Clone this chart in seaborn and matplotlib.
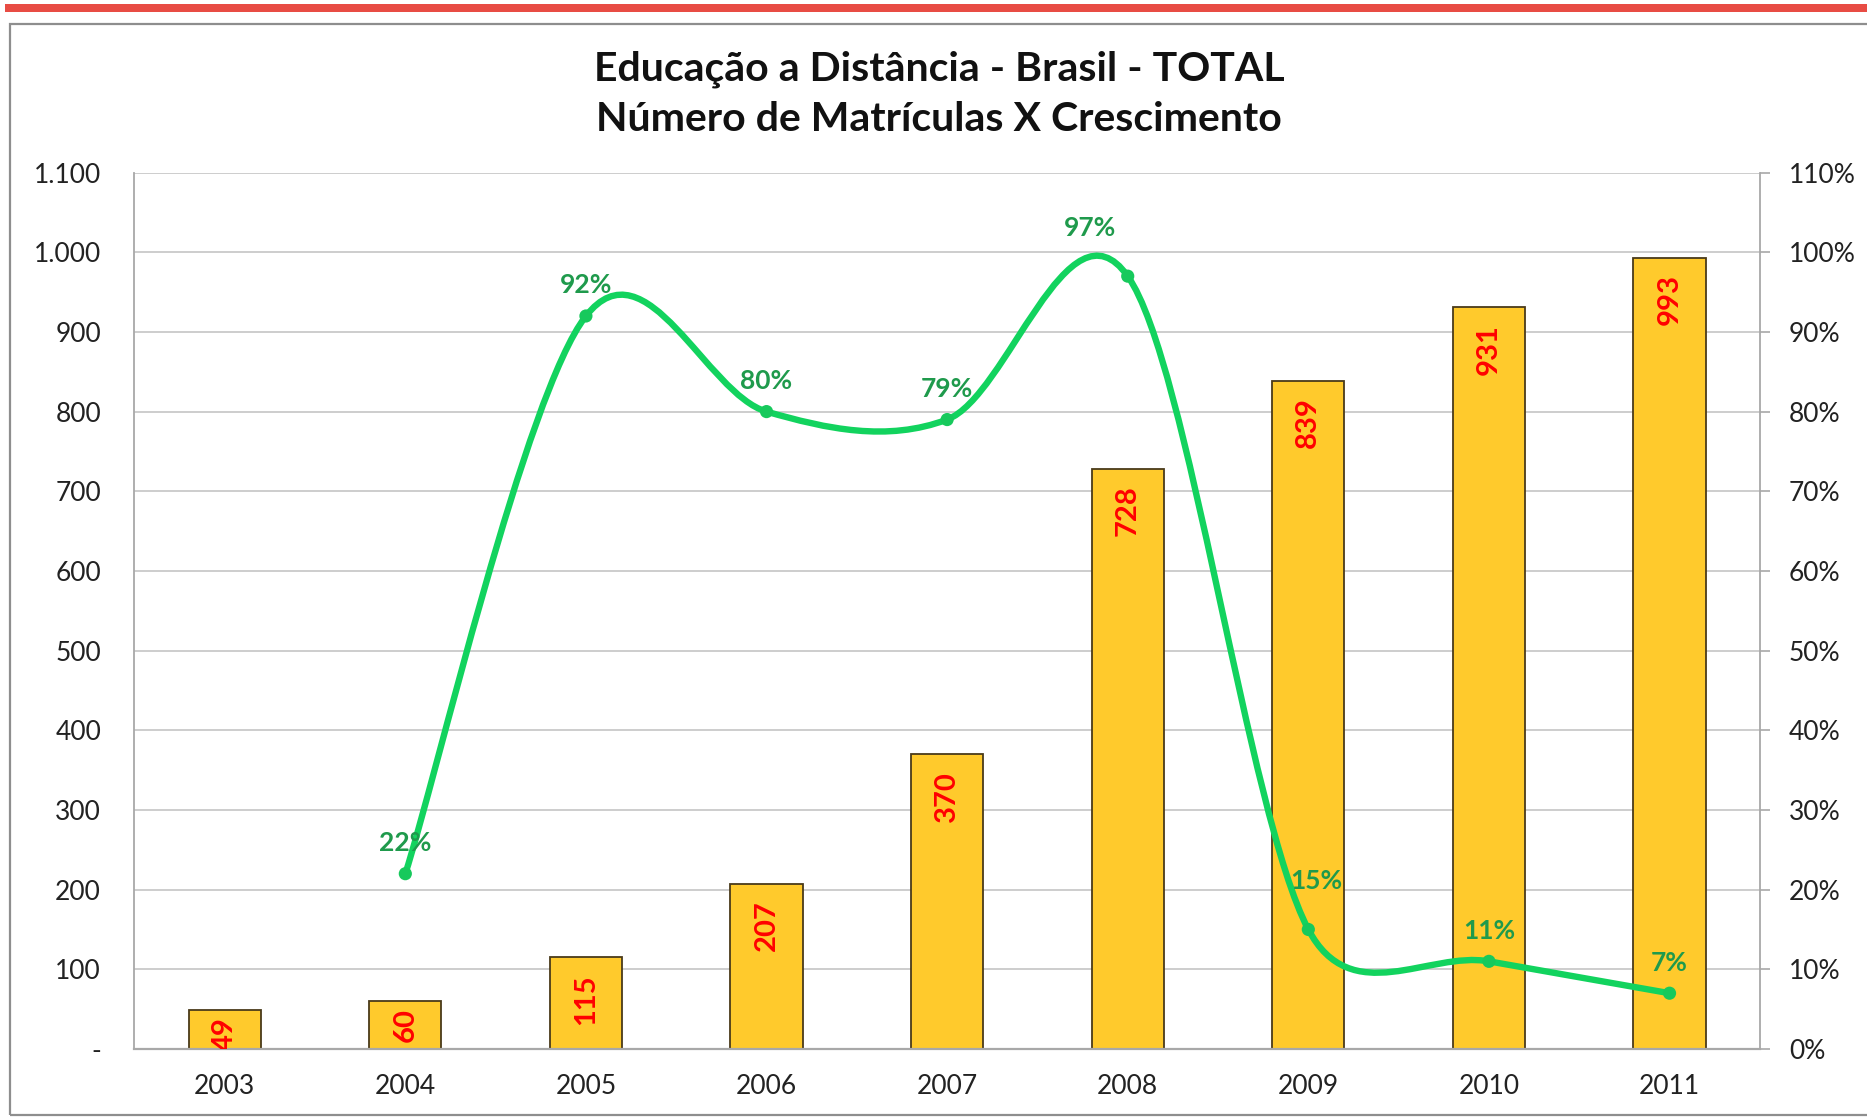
import numpy as np
import pandas as pd
import matplotlib
matplotlib.use('Agg')
import matplotlib.pyplot as plt
import seaborn as sns
from matplotlib.path import Path
from matplotlib.patches import PathPatch, Rectangle
from matplotlib.ticker import FuncFormatter, MultipleLocator

# ---------------- data ----------------
years = ['2003', '2004', '2005', '2006', '2007', '2008', '2009', '2010', '2011']
matriculas = [49, 60, 115, 207, 370, 728, 839, 931, 993]
growth_years = ['2004', '2005', '2006', '2007', '2008', '2009', '2010', '2011']
crescimento = [22, 92, 80, 79, 97, 15, 11, 7]
title_lines = ['Educação a Distância - Brasil - TOTAL',
               'Número de Matrículas X Crescimento']

# ---------------- style ----------------
sns.set_theme(style='white')
plt.rcParams['font.family'] = ['Lato', 'DejaVu Sans']

BAR_COLOR = '#FFCA2C'
BAR_EDGE = '#4A3A1A'
LINE_COLOR = '#12D35E'
PCT_COLOR = '#1F9A4C'
GRID = '#C9C9C9'

fig = plt.figure(figsize=(18.67, 11.17), dpi=100)
fig.patch.set_facecolor('white')

# outer frame and red top strip
fig.patches.append(Rectangle((0.0054, 0.0018), 1.2, 0.9767, transform=fig.transFigure,
                             fill=False, edgecolor='#8E8E8E', linewidth=1.6))
fig.patches.append(Rectangle((0.0027, 0.9893), 1.0, 0.0071, transform=fig.transFigure,
                             facecolor='#E84C44', edgecolor='none'))

ax = fig.add_axes([0.0720, 0.0609, 0.8706, 0.7846])
df = pd.DataFrame({'ano': years, 'matriculas': matriculas})
sns.barplot(data=df, x='ano', y='matriculas', color=BAR_COLOR, saturation=1,
            edgecolor=BAR_EDGE, linewidth=1.3, width=0.4, ax=ax, zorder=2)

ax.set_xlim(-0.5, len(years) - 0.5)
ax.set_ylim(0, 1100)
ax.yaxis.set_major_locator(MultipleLocator(100))


def fmt_left(v, pos):
    v = int(round(v))
    if v == 0:
        return '-'
    return f'{v:,}'.replace(',', '.')


ax.yaxis.set_major_formatter(FuncFormatter(fmt_left))
ax.set_xlabel('')
ax.set_ylabel('')
ax.yaxis.grid(True, color=GRID, linewidth=1.3)
ax.set_axisbelow(True)
for s in ['top', 'right']:
    ax.spines[s].set_visible(False)
ax.spines['left'].set_color('#A8A8A8')
ax.spines['left'].set_linewidth(1.3)
ax.spines['bottom'].set_color('#A8A8A8')
ax.spines['bottom'].set_linewidth(1.6)
ax.tick_params(axis='y', length=0, pad=24, labelsize=19, labelcolor='#222222')
ax.tick_params(axis='x', length=0, pad=18, labelsize=19, labelcolor='#222222')

# bar value labels (rotated, inside end)
for i, v in enumerate(matriculas):
    lab = str(v)
    off = -(5 + 7 * (len(lab) - 2))
    t = ax.annotate(lab, xy=(i, v), xytext=(0, off), textcoords='offset points',
                    rotation=90, ha='center', va='top', color='#FF0000',
                    fontsize=21, fontweight='bold', zorder=3)
    t.set_clip_on(True)
    t.set_clip_path(ax.patch)

# growth line on secondary axis
ax2 = ax.twinx()
ax2.set_ylim(0, 110)
ax2.set_xlim(-0.5, len(years) - 0.5)
ax2.yaxis.set_major_locator(MultipleLocator(10))
ax2.yaxis.set_major_formatter(FuncFormatter(lambda v, p: f'{int(round(v))}%'))
for s in ['top', 'left', 'bottom']:
    ax2.spines[s].set_visible(False)
ax2.spines['right'].set_color('#A8A8A8')
ax2.spines['right'].set_linewidth(1.3)
ax2.tick_params(axis='y', direction='out', length=7, width=1.2, color='#A8A8A8',
                pad=14, labelsize=19, labelcolor='#222222', right=True)
ax2.grid(False)

xpos = np.array([years.index(y) for y in growth_years], dtype=float)
yv = np.array(crescimento, dtype=float)
pts = np.column_stack([xpos, yv])

# smoothed (Excel-like) Bezier path, control points computed in display space
disp = ax2.transData.transform(pts)
inv = ax2.transData.inverted()
verts = [pts[0]]
codes = [Path.MOVETO]
n = len(pts)
for i in range(n - 1):
    d0 = disp[i - 1] if i > 0 else disp[i]
    d1 = disp[i]
    d2 = disp[i + 1]
    d3 = disp[i + 2] if i + 2 < n else disp[i + 1]
    lim = 0.5 * np.linalg.norm(d2 - d1)
    t1 = (d2 - d0) / 6.0
    t2 = (d3 - d1) / 6.0
    for t in (t1, t2):
        L = np.linalg.norm(t)
        if L > lim:
            t *= lim / L
    c1 = inv.transform(d1 + t1)
    c2 = inv.transform(d2 - t2)
    verts += [c1, c2, pts[i + 1]]
    codes += [Path.CURVE4] * 3
ax2.add_patch(PathPatch(Path(verts, codes), facecolor='none', edgecolor=LINE_COLOR,
                        linewidth=4.6, capstyle='round', joinstyle='round', zorder=4))

gdf = pd.DataFrame({'x': xpos, 'y': yv})
sns.scatterplot(data=gdf, x='x', y='y', ax=ax2, color='#17C95C', s=90,
                edgecolor='none', zorder=5, legend=False)
ax2.set_xlabel('')
ax2.set_ylabel('')
ax2.set_xlim(-0.5, len(years) - 0.5)
ax2.set_ylim(0, 110)

nudge = {'2008': (-27, 35), '2009': (6, 35)}
for yr, x, v in zip(growth_years, xpos, crescimento):
    dx, dy = nudge.get(yr, (0, 22))
    ax2.annotate(f'{v}%', xy=(x, v), xytext=(dx, dy), textcoords='offset points',
                 ha='center', va='center', color=PCT_COLOR, fontsize=19,
                 fontweight='bold', zorder=6)

fig.text(0.503, 0.938, title_lines[0], ha='center', va='center', fontsize=29.5,
         fontweight='bold', color='#111111')
fig.text(0.503, 0.893, title_lines[1], ha='center', va='center', fontsize=29.5,
         fontweight='bold', color='#111111')

fig.savefig('out.png', dpi=100, facecolor='white')
